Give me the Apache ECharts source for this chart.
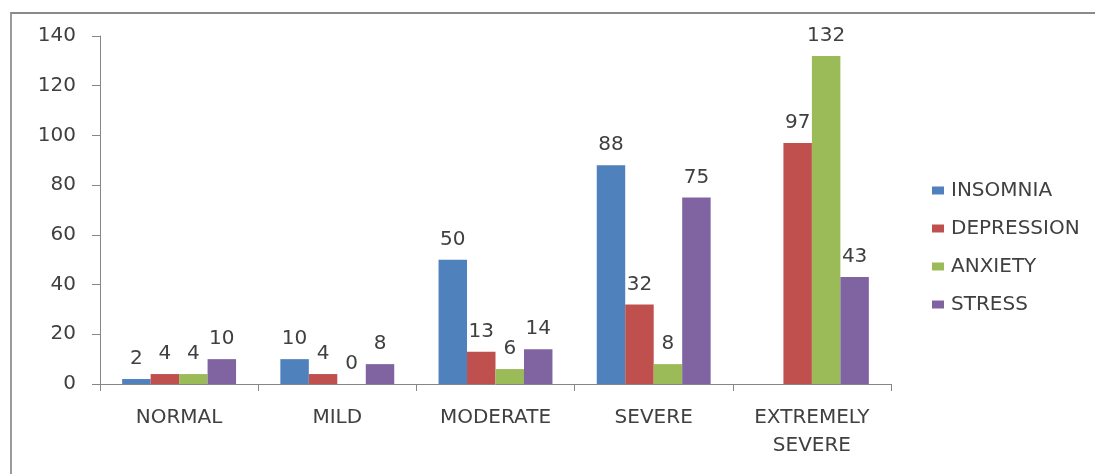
<!DOCTYPE html>
<html>
<head>
<meta charset="utf-8">
<script src="https://cdn.jsdelivr.net/npm/echarts@6/dist/echarts.min.js"></script>
<style>
html,body{margin:0;padding:0;background:#fff;width:1095px;height:474px;overflow:hidden;}
#frame{position:absolute;left:10px;top:12px;width:1100px;height:480px;border-left:2px solid #9a9a9a;border-top:2px solid #8a8a8a;}
#chart{position:absolute;left:0;top:0;width:1095px;height:474px;}
</style>
</head>
<body>
<div id="frame"></div>
<div id="chart"></div>
<script>
const categories = ['NORMAL', 'MILD', 'MODERATE', 'SEVERE', 'EXTREMELY\nSEVERE'];
const seriesNames = ['INSOMNIA', 'DEPRESSION', 'ANXIETY', 'STRESS'];
const insomnia   = [2, 10, 50, 88, null];
const depression = [4, 4, 13, 32, 97];
const anxiety    = [4, 0, 6, 8, 132];
const stress     = [10, 8, 14, 75, 43];
const yTicks = [0, 20, 40, 60, 80, 100, 120, 140];

const colors = ['#4F81BD', '#C0504D', '#9BBB59', '#8064A2'];
const values = [insomnia, depression, anxiety, stress];
const FONT = 'DejaVu Sans';
const TXT = '#404040';
const FS = 20;

const chart = echarts.init(document.getElementById('chart'), null, {renderer: 'canvas'});
chart.setOption({
  animation: false,
  backgroundColor: 'transparent',
  textStyle: {fontFamily: FONT},
  grid: {left: 100, right: 204, top: 36, bottom: 90, containLabel: false},
  legend: {
    orient: 'vertical',
    left: 927,
    top: 175,
    itemWidth: 12,
    itemHeight: 8,
    itemGap: 17,
    icon: 'rect',
    data: seriesNames,
    textStyle: {fontFamily: FONT, fontSize: FS, color: TXT, lineHeight: 21, padding: [0, 0, 0, 2]}
  },
  xAxis: {
    type: 'category',
    data: categories,
    boundaryGap: true,
    axisLine: {show: true, lineStyle: {color: '#868686', width: 1}},
    axisTick: {show: true, length: 7, alignWithLabel: false, lineStyle: {color: '#868686'}},
    axisLabel: {fontFamily: FONT, fontSize: FS, color: TXT, margin: 20, lineHeight: 28, interval: 0}
  },
  yAxis: {
    type: 'value',
    min: yTicks[0],
    max: yTicks[yTicks.length - 1],
    interval: yTicks[1] - yTicks[0],
    splitLine: {show: false},
    axisLine: {show: true, lineStyle: {color: '#868686', width: 1}},
    axisTick: {show: true, length: 8, inside: false, lineStyle: {color: '#868686'}},
    axisLabel: {fontFamily: FONT, fontSize: FS, color: TXT, margin: 24}
  },
  series: seriesNames.map((name, i) => ({
    name: name,
    type: 'bar',
    data: values[i],
    barGap: '0%',
    barCategoryGap: '28%',
    itemStyle: {color: colors[i]},
    label: {
      show: true,
      position: 'top',
      distance: 10,
      fontFamily: FONT,
      fontSize: FS,
      color: TXT
    }
  }))
});
</script>
</body>
</html>
